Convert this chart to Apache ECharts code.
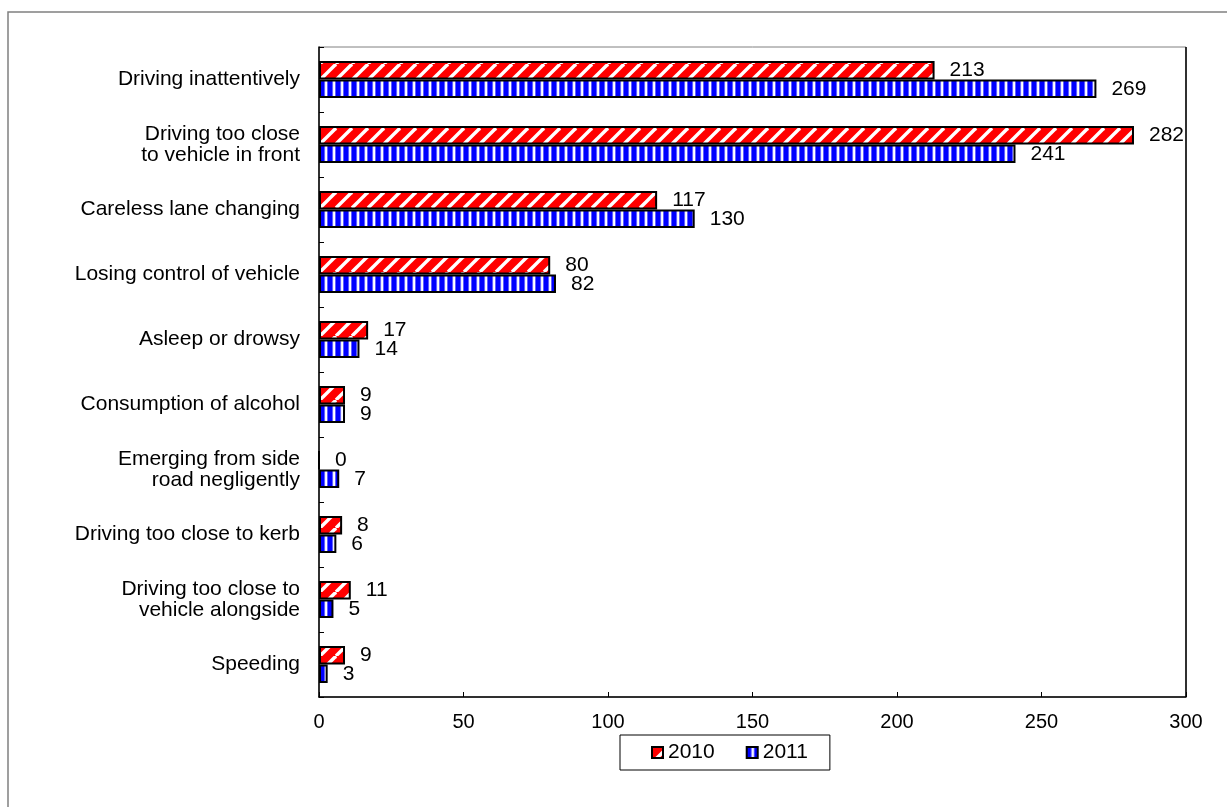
<!DOCTYPE html>
<html>
<head>
<meta charset="utf-8">
<script src="https://cdn.jsdelivr.net/npm/echarts@6/dist/echarts.min.js"></script>
<style>
html,body{margin:0;padding:0;background:#fff;}
#main{width:1227px;height:807px;}
</style>
</head>
<body>
<div id="main"></div>
<script>
const categories = [
  "Driving inattentively",
  "Driving too close\nto vehicle in front",
  "Careless lane changing",
  "Losing control of vehicle",
  "Asleep or drowsy",
  "Consumption of alcohol",
  "Emerging from side\nroad negligently",
  "Driving too close to kerb",
  "Driving too close to\nvehicle alongside",
  "Speeding"
];
const values2010 = [213, 282, 117, 80, 17, 9, 0, 8, 11, 9];
const values2011 = [269, 241, 130, 82, 14, 9, 7, 6, 5, 3];
const seriesNames = ["2010", "2011"];
const xTicks = [0, 50, 100, 150, 200, 250, 300];

function redPattern() {
  const s = 16;
  const c = document.createElement('canvas');
  c.width = s; c.height = s;
  const ctx = c.getContext('2d');
  ctx.fillStyle = '#ff0000';
  ctx.fillRect(0, 0, s, s);
  ctx.strokeStyle = '#ffffff';
  ctx.lineWidth = 3.4;
  for (const o of [-s, 0, s]) {
    ctx.beginPath();
    ctx.moveTo(o, s);
    ctx.lineTo(o + s, 0);
    ctx.stroke();
  }
  return c;
}
function bluePattern() {
  const cols = ['#0000ff', '#0000ff', '#0000ff', '#0000ff', '#6060ff', '#f0f0ff', '#ffffff', '#6060ff'];
  const c = document.createElement('canvas');
  c.width = cols.length; c.height = 8;
  const ctx = c.getContext('2d');
  cols.forEach((col, i) => { ctx.fillStyle = col; ctx.fillRect(i, 0, 1, 8); });
  return c;
}

const chart = echarts.init(document.getElementById('main'), null, { renderer: 'canvas', devicePixelRatio: 1 });
const font = "'Liberation Sans', Arial, sans-serif";

const gridLeft = 319, gridRight = 41, gridTop = 47, gridBottom = 110;

function barSeries(name, data, pat) {
  return {
    name: name,
    type: 'bar',
    data: data,
    barWidth: 18.5,
    barGap: '0%',
    itemStyle: {
      color: { image: pat, repeat: 'repeat' },
      borderColor: '#000',
      borderWidth: 2
    },
    label: {
      show: true,
      position: 'right',
      distance: 15,
      color: '#000',
      fontSize: 21,
      fontFamily: font
    }
  };
}

chart.setOption({
  animation: false,
  backgroundColor: '#fff',
  textStyle: { fontFamily: font },
  grid: {
    left: gridLeft, right: gridRight, top: gridTop, bottom: gridBottom,
    show: true, borderColor: '#808080', borderWidth: 1
  },
  xAxis: {
    type: 'value',
    min: xTicks[0], max: xTicks[xTicks.length - 1], interval: 50,
    splitLine: { show: false },
    axisLine: { show: true, lineStyle: { color: '#000', width: 1.5 } },
    axisTick: { show: true, inside: true, length: 5, lineStyle: { color: '#000' } },
    axisLabel: { color: '#000', fontSize: 20, fontFamily: font, margin: 15 }
  },
  yAxis: {
    type: 'category',
    data: categories,
    inverse: true,
    axisLine: { show: true, lineStyle: { color: '#000', width: 1.5 } },
    axisTick: { show: true, inside: true, length: 5, lineStyle: { color: '#000' } },
    axisLabel: { color: '#000', fontSize: 21, fontFamily: font, margin: 19, lineHeight: 21, align: 'right' }
  },
  legend: {
    data: seriesNames,
    top: 735,
    left: 620,
    itemWidth: 11,
    itemHeight: 11,
    itemGap: 31,
    icon: 'rect',
    borderColor: '#000',
    borderWidth: 1,
    borderRadius: 0,
    padding: [7, 22, 7, 31],
    textStyle: { color: '#000', fontSize: 21, fontFamily: font, padding: [0, 0, 0, 0] }
  },
  graphic: [
    {
      type: 'rect',
      shape: { x: 8, y: 12, width: 1400, height: 1000 },
      style: { fill: 'none', stroke: '#808080', lineWidth: 1.5 },
      silent: true, z: -10
    },
    {
      type: 'line',
      shape: { x1: 1227 - gridRight, y1: gridTop, x2: 1227 - gridRight, y2: 807 - gridBottom },
      style: { stroke: '#000', lineWidth: 1.5 },
      silent: true, z: 5
    }
  ],
  series: [
    barSeries(seriesNames[0], values2010, redPattern()),
    barSeries(seriesNames[1], values2011, bluePattern())
  ]
});
</script>
</body>
</html>
